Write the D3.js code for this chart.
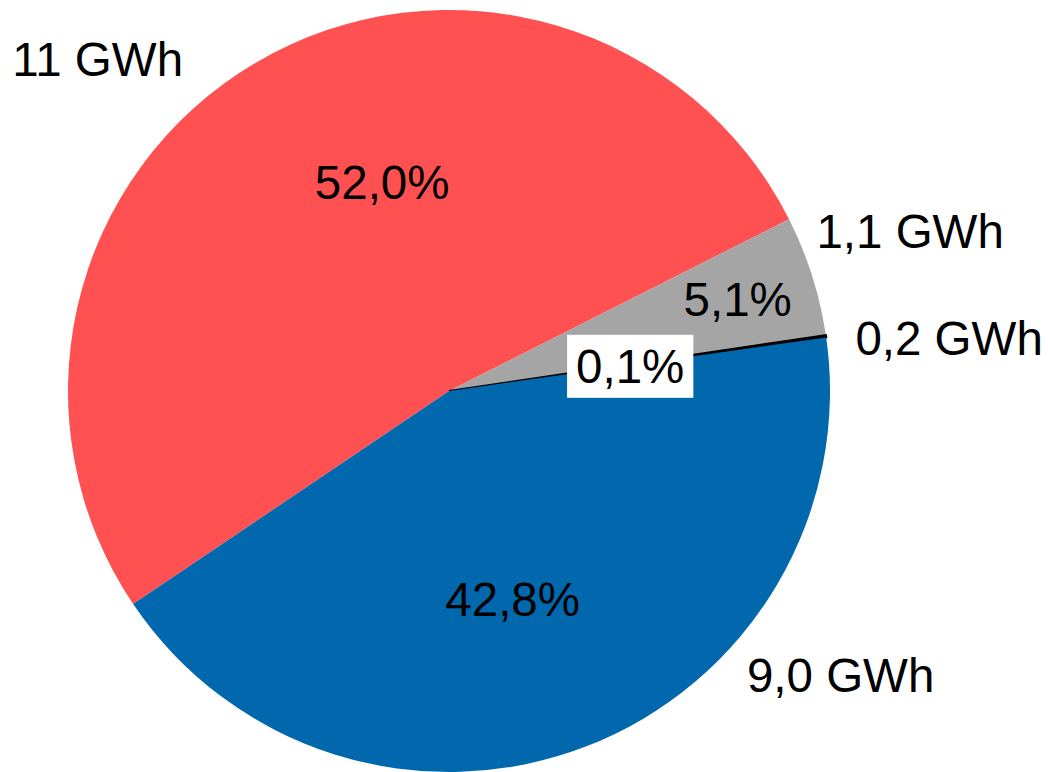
<html lang="de">
<head>
	<meta charset="utf-8">
	<title>Pie</title>
	<script src="https://d3js.org/d3.v7.min.js"></script>
	<style>
		body { margin: 0; background: #fff; }
		svg { display: block; }
		text { font-family: "Liberation Sans", Arial, sans-serif; font-size: 47.5px; fill: #000; }
	</style>
</head>
<body>
	<svg id="chart" width="1048" height="772"></svg>
<script>
    // slice order, clockwise starting at the red slice
    var shares = [52.0, 5.1, 0.1, 42.8];
    var shareLabels = ["52,0%", "5,1%", "0,1%", "42,8%"];
    var energyLabels = ["11 GWh", "1,1 GWh", "0,2 GWh", "9,0 GWh"];

    var colors = ["#ff5151", "#a5a5a5", "#000000", "#0168ae"];

    // label placement: degree shift from slice middle, radius as fraction of R
    var innerShift = [12.7, 0, 0.5, 4];
    var innerRad = [0.577, 0.795, 0.48, 0.57];
    var outerShift = [-16.2, -1.5, 2.2, -33];
    var outerRad = [1.269, 1.281, 1.32, 1.27];

    var svg = d3.select("#chart"),
        cx = 449, cy = 391, R = 381,
        g = svg.append("g").attr("transform", "translate(" + cx + "," + cy + ")");

    var pie = d3.pie().sort(null)
        .startAngle(-124 * Math.PI / 180)
        .endAngle(236 * Math.PI / 180);
    var arc = d3.arc().innerRadius(0).outerRadius(R);
    var arcs = pie(shares);

    g.selectAll(".slice")
        .data(arcs)
        .enter().append("path")
        .attr("class", "slice")
        .attr("d", arc)
        .attr("fill", function (d, i) { return colors[i]; })
        .attr("stroke", function (d, i) { return i == 2 ? "#000" : "none"; })
        .attr("stroke-width", 2);

    function polar(d, shiftDeg, frac) {
        var a = (d.startAngle + d.endAngle) / 2 + shiftDeg * Math.PI / 180;
        return [Math.sin(a) * R * frac, -Math.cos(a) * R * frac];
    }

    // percentage labels
    arcs.forEach(function (d, i) {
        var p = polar(d, innerShift[i], innerRad[i]);
        var lg = g.append("g").attr("transform", "translate(" + p[0] + "," + p[1] + ")");
        var t = lg.append("text")
            .attr("text-anchor", "middle")
            .attr("dy", "0.36em")
            .text(shareLabels[i]);
        if (i == 2) {
            var bb = t.node().getBBox();
            lg.insert("rect", "text")
                .attr("x", bb.x - 9)
                .attr("y", -31.5)
                .attr("width", bb.width + 18)
                .attr("height", 63)
                .attr("fill", "#fff");
        }
    });

    // energy labels outside
    g.selectAll(".outer")
        .data(arcs)
        .enter().append("text")
        .attr("class", "outer")
        .attr("text-anchor", "middle")
        .attr("dy", "0.36em")
        .attr("transform", function (d, i) {
            var p = polar(d, outerShift[i], outerRad[i]);
            return "translate(" + p[0] + "," + p[1] + ")";
        })
        .text(function (d, i) { return energyLabels[i]; });
</script>
</body>
</html>
